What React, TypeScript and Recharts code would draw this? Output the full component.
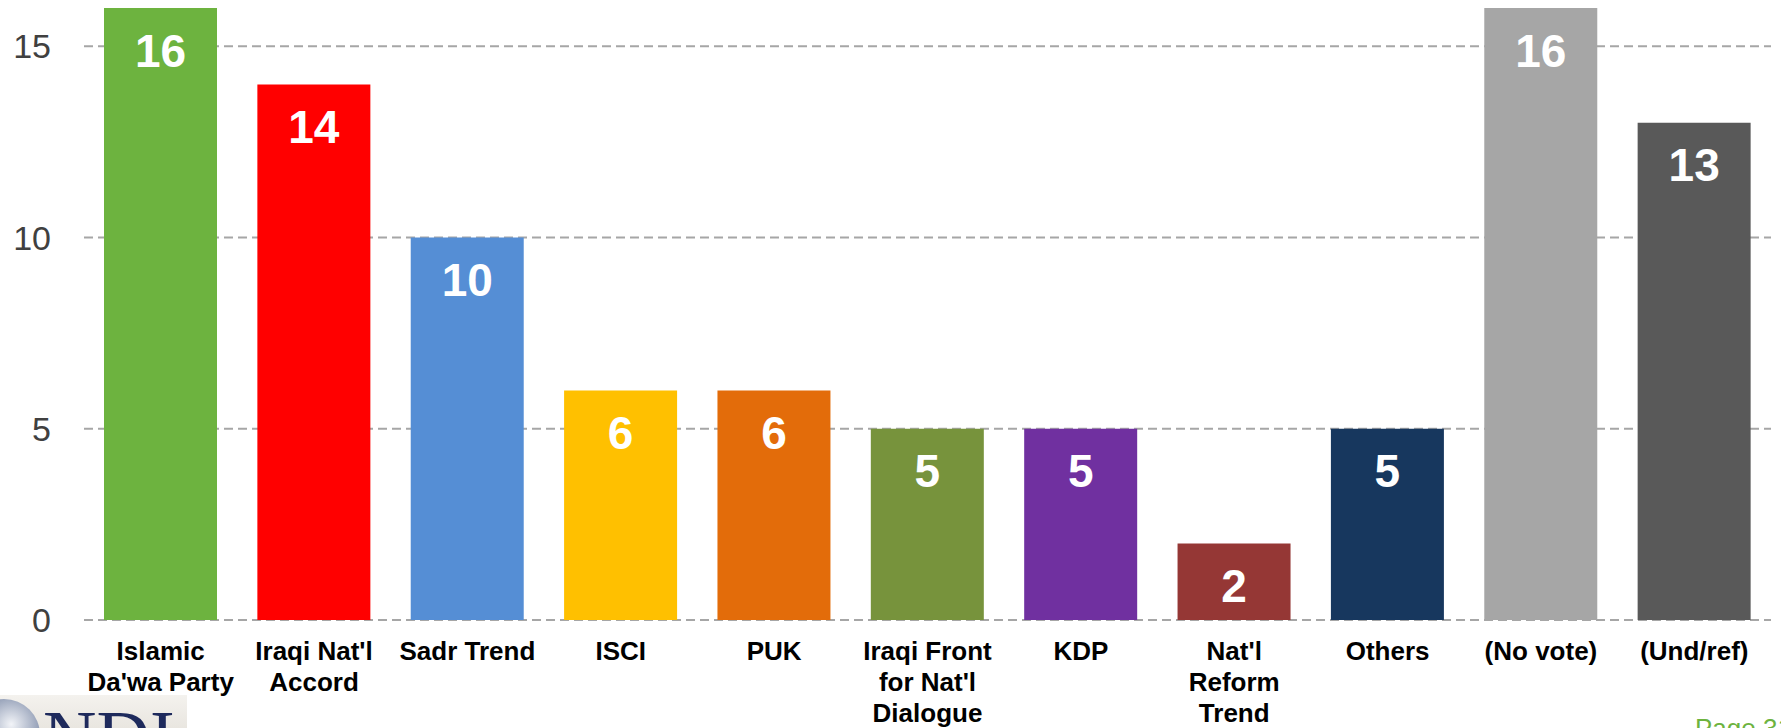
import { BarChart, Bar, XAxis, YAxis, CartesianGrid, Cell, LabelList } from "recharts";

const parties = [
  "Islamic\nDa'wa Party",
  "Iraqi Nat'l\nAccord",
  "Sadr Trend",
  "ISCI",
  "PUK",
  "Iraqi Front\nfor Nat'l\nDialogue",
  "KDP",
  "Nat'l\nReform\nTrend",
  "Others",
  "(No vote)",
  "(Und/ref)",
];
const support = [16, 14, 10, 6, 6, 5, 5, 2, 5, 16, 13];
const yTicks = [0, 5, 10, 15];
const COLORS = [
  "#6DB33F",
  "#FF0000",
  "#558ED5",
  "#FFC000",
  "#E36C0A",
  "#77933C",
  "#7030A0",
  "#953735",
  "#17375E",
  "#A6A6A6",
  "#595959",
];

const data = parties.map((name, i) => ({ name, value: support[i] }));

const FONT = "'Liberation Sans', Arial, sans-serif";

function PartyTick(props: any) {
  const { x, y, payload } = props;
  const lines = String(payload.value).split("\n");
  return (
    <text
      x={x}
      y={y + 40}
      textAnchor="middle"
      fontFamily={FONT}
      fontSize={26}
      fontWeight="bold"
      fill="#000"
    >
      {lines.map((l, i) => (
        <tspan key={i} x={x} dy={i === 0 ? 0 : 31}>
          {l}
        </tspan>
      ))}
    </text>
  );
}

function ValueLabel(props: any) {
  const { x, y, width, value } = props;
  return (
    <text
      x={x + width / 2}
      y={y + 42}
      dy="0.36em"
      textAnchor="middle"
      fontFamily={FONT}
      fontSize={46}
      fontWeight="bold"
      fill="#fff"
    >
      {value}
    </text>
  );
}

export default function App() {
  return (
    <div
      style={{
        position: "absolute",
        left: 0,
        top: 0,
        width: 1781,
        height: 728,
        overflow: "hidden",
        background: "#fff",
      }}
    >
      <BarChart
        width={1781}
        height={728}
        data={data}
        margin={{ top: 8, right: 10, left: 0, bottom: 0 }}
      >
        <CartesianGrid
          vertical={false}
          horizontalValues={yTicks}
          stroke="#A6A6A6"
          strokeWidth={2}
          strokeDasharray="9 5"
        />
        <XAxis
          dataKey="name"
          height={108}
          axisLine={false}
          tickLine={false}
          tickSize={0}
          tickMargin={0}
          interval={0}
          tick={<PartyTick />}
        />
        <YAxis
          width={84}
          domain={[0, 16]}
          ticks={yTicks}
          axisLine={false}
          tickLine={false}
          tickSize={0}
          tickMargin={33}
          tick={{ fontFamily: FONT, fontSize: 34, fill: "#404040" }}
        />
        <Bar dataKey="value" barSize={113} isAnimationActive={false}>
          {data.map((_, i) => (
            <Cell key={i} fill={COLORS[i]} />
          ))}
          <LabelList dataKey="value" content={<ValueLabel />} />
        </Bar>
      </BarChart>

      {/* NDI logo strip, cut off at the bottom edge */}
      <div
        style={{
          position: "absolute",
          left: 0,
          top: 695,
          width: 187,
          height: 33,
          background: "linear-gradient(#F4F2EE, #E9E6E0)",
          overflow: "hidden",
        }}
      >
        <svg width={187} height={33}>
          <defs>
            <radialGradient id="globe" cx="0.6" cy="0.35" r="0.7">
              <stop offset="0%" stopColor="#F2F4F8" />
              <stop offset="60%" stopColor="#8E9AB3" />
              <stop offset="100%" stopColor="#3E4C6E" />
            </radialGradient>
          </defs>
          <circle cx={4} cy={40} r={36} fill="url(#globe)" />
          <text
            x={43}
            y={67}
            fontFamily="'Liberation Serif', 'Times New Roman', serif"
            fontSize={74}
            fill="#1E2A5C"
          >
            NDI
          </text>
        </svg>
      </div>

      <div
        style={{
          position: "absolute",
          left: 1695,
          top: 713,
          fontFamily: FONT,
          fontSize: 26,
          color: "#6DB33F",
          whiteSpace: "nowrap",
          lineHeight: "30px",
        }}
      >
        Page 31
      </div>
    </div>
  );
}
